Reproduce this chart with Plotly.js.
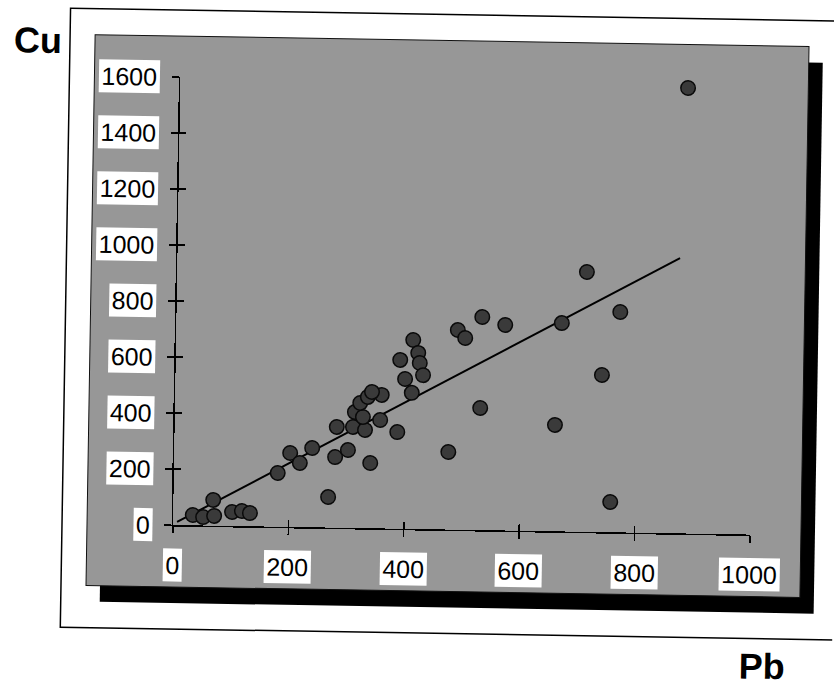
<!DOCTYPE html>
<html><head><meta charset="utf-8">
<script src="https://cdn.plot.ly/plotly-3.0.1.min.js"></script>
<style>
html,body{margin:0;padding:0;background:#fff;overflow:hidden;}
#chart{width:834px;height:689px;transform-origin:173px 525px;transform:rotate(0.95deg);}
</style></head><body><div id="chart"></div>
<script>
// Scatter data: Pb (x) vs Cu (y)
const pb = [34, 52, 71, 69, 102, 119, 133, 180, 201, 218, 239, 268, 279, 301, 281, 309, 330, 340, 356, 386,
            312, 326, 321, 334, 358, 341, 398, 410, 389, 411, 420, 423, 429, 475, 488, 501, 530, 529, 570, 668,
            710, 769, 739, 659, 880, 757];
const cu = [37, 30, 35, 92, 50, 54, 47, 192, 264, 229, 283, 109, 252, 278, 360, 361, 351, 233, 387, 345,
            414, 397, 447, 469, 477, 487, 535, 486, 603, 675, 629, 593, 550, 277, 713, 685, 761, 436, 734, 744,
            928, 787, 561, 380, 1591, 108];
// Regression line end points
const fitPb = [7, 871];
const fitCu = [11, 983];
// Tick labels
const xTickVals = [0, 200, 400, 600, 800, 1000];
const xTickText = ['0', '200', '400', '600', '800', '1000'];
const yTickVals = [0, 200, 400, 600, 800, 1000, 1200, 1400, 1600];
const yTickText = ['0', '200', '400', '600', '800', '1000', '1200', '1400', '1600'];
const xTitle = 'Pb';
const yTitle = 'Cu';

const W = 834, H = 689;
const px = v => v / W;
const py = v => 1 - v / H;
const FONT = '"Liberation Sans", Arial, Helvetica, sans-serif';

const traces = [
  {type: 'scatter', mode: 'lines', x: fitPb, y: fitCu, line: {color: '#000', width: 2}, hoverinfo: 'skip',
   showlegend: false, cliponaxis: false},
  {type: 'scatter', mode: 'markers', x: pb, y: cu, cliponaxis: false,
   marker: {size: 14.5, color: '#3a3a3a', line: {color: '#0a0a0a', width: 1.5}}, showlegend: false},
  {type: 'scatter', mode: 'markers', x: [], y: [], xaxis: 'x2', yaxis: 'y2', showlegend: false}
];

const xDom = [173 / W, 750 / W];
const yDom = [py(525), py(77)];
const axCommon = {showgrid: false, zeroline: false, fixedrange: true, showticklabels: false,
                  tickcolor: '#000', tickwidth: 1.5, ticklen: 7};

const annotations = [];
xTickVals.forEach((v, i) => annotations.push({
  x: v, xref: 'x', y: py(565), yref: 'paper', text: xTickText[i], showarrow: false,
  xanchor: 'center', yanchor: 'middle', bgcolor: '#fff', borderpad: 2,
  font: {family: FONT, size: 25, color: '#000'}
}));
yTickVals.forEach((v, i) => annotations.push({
  x: px(153), xref: 'paper', y: v, yref: 'y', text: yTickText[i], showarrow: false,
  xanchor: 'right', yanchor: 'middle', bgcolor: '#fff', borderpad: 2,
  font: {family: FONT, size: 25, color: '#000'}
}));
annotations.push({x: px(30), y: py(43), xref: 'paper', yref: 'paper', text: '<b>' + yTitle + '</b>',
  showarrow: false, xanchor: 'center', yanchor: 'middle', font: {family: FONT, size: 36, color: '#000'}});
annotations.push({x: px(764), y: py(656), xref: 'paper', yref: 'paper', text: '<b>' + xTitle + '</b>',
  showarrow: false, xanchor: 'center', yanchor: 'middle', font: {family: FONT, size: 36, color: '#000'}});

const layout = {
  width: W, height: H, margin: {l: 0, r: 0, t: 0, b: 0, pad: 0},
  paper_bgcolor: '#fff', plot_bgcolor: 'rgba(0,0,0,0)',
  showlegend: false,
  xaxis: Object.assign({}, axCommon, {domain: xDom, range: [0, 1000], anchor: 'y',
    tickvals: xTickVals, ticks: 'outside', showline: true, linecolor: '#000', linewidth: 1.5}),
  yaxis: Object.assign({}, axCommon, {domain: yDom, range: [0, 1600], anchor: 'x',
    tickvals: yTickVals, ticks: 'outside', showline: true, linecolor: '#000', linewidth: 1.5}),
  xaxis2: Object.assign({}, axCommon, {domain: xDom, range: [0, 1000], anchor: 'y2', overlaying: 'x',
    tickvals: xTickVals, ticks: 'inside', showline: false}),
  yaxis2: Object.assign({}, axCommon, {domain: yDom, range: [0, 1600], anchor: 'x2', overlaying: 'y',
    tickvals: yTickVals, ticks: 'inside', showline: false}),
  shapes: [
    {type: 'rect', xref: 'paper', yref: 'paper', x0: px(62), x1: px(900), y0: py(10), y1: py(629),
     line: {color: '#000', width: 1.5}, fillcolor: 'rgba(0,0,0,0)', layer: 'below'},
    {type: 'rect', xref: 'paper', yref: 'paper', x0: px(101), x1: px(815), y0: py(52), y1: py(603),
     line: {width: 0}, fillcolor: '#000', layer: 'below'},
    {type: 'rect', xref: 'paper', yref: 'paper', x0: px(87), x1: px(801), y0: py(36), y1: py(587),
     line: {color: '#111', width: 1}, fillcolor: '#979797', layer: 'below'}
  ],
  annotations: annotations
};

Plotly.newPlot('chart', traces, layout, {staticPlot: true, displayModeBar: false});
</script></body></html>
